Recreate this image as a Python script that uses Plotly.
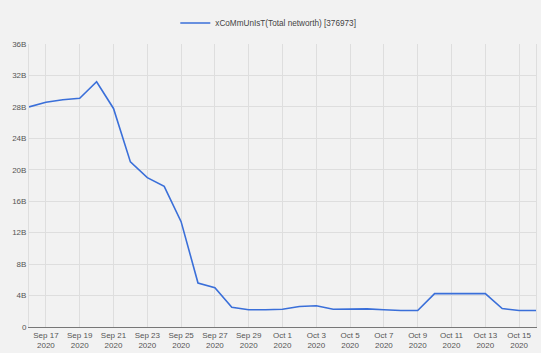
import plotly.graph_objects as go
import pandas as pd

dates = pd.date_range("2020-09-16", "2020-10-16", freq="D").strftime("%Y-%m-%d").tolist()
networth_b = [28.0, 28.6, 28.9, 29.1, 31.2, 27.8, 21.0, 19.0, 17.9, 13.4,
              5.6, 5.0, 2.5, 2.2, 2.2, 2.25, 2.6, 2.7, 2.25, 2.3,
              2.3, 2.2, 2.1, 2.1, 4.25, 4.25, 4.25, 4.25, 2.35, 2.1, 2.1]
series_name = "xCoMmUnIsT(Total networth) [376973]"

y_tickvals = [0, 4, 8, 12, 16, 20, 24, 28, 32, 36]
y_ticktext = ["0", "4B", "8B", "12B", "16B", "20B", "24B", "28B", "32B", "36B"]
x_tickvals = ["2020-09-17", "2020-09-19", "2020-09-21", "2020-09-23", "2020-09-25",
              "2020-09-27", "2020-09-29", "2020-10-01", "2020-10-03", "2020-10-05",
              "2020-10-07", "2020-10-09", "2020-10-11", "2020-10-13", "2020-10-15"]
x_ticktext = ["Sep 17<br>2020", "Sep 19<br>2020", "Sep 21<br>2020", "Sep 23<br>2020",
              "Sep 25<br>2020", "Sep 27<br>2020", "Sep 29<br>2020", "Oct 1<br>2020",
              "Oct 3<br>2020", "Oct 5<br>2020", "Oct 7<br>2020", "Oct 9<br>2020",
              "Oct 11<br>2020", "Oct 13<br>2020", "Oct 15<br>2020"]

fig = go.Figure()
fig.add_trace(go.Scatter(x=dates, y=networth_b, mode="lines", name=series_name,
                         line=dict(color="#3a6fd9", width=1.6)))

bg = "#f2f2f2"
fig.update_layout(
    width=541, height=353,
    paper_bgcolor=bg, plot_bgcolor=bg,
    margin=dict(l=29, r=5, t=44, b=26, autoexpand=False),
    font=dict(family="Arial, Liberation Sans, sans-serif", size=8, color="#555555"),
    showlegend=True,
    legend=dict(orientation="h", x=0.472, xanchor="center", y=0.935, yanchor="middle",
                yref="container", font=dict(size=8.2, color="#444444"),
                bgcolor="rgba(0,0,0,0)"),
)
fig.update_xaxes(range=["2020-09-16", "2020-10-16"], tickvals=x_tickvals, ticktext=x_ticktext,
                 showgrid=True, gridcolor="#dedede", gridwidth=1,
                 showline=True, linecolor="#777777", linewidth=1,
                 ticks="", tickfont=dict(size=8), zeroline=False, automargin=False)
fig.update_yaxes(range=[0, 36], tickvals=y_tickvals, ticktext=y_ticktext,
                 showgrid=True, gridcolor="#dedede", gridwidth=1,
                 showline=True, linecolor="#dedede", mirror=True,
                 ticks="", tickfont=dict(size=8), zeroline=False, automargin=False)
fig.write_html("out.html")
